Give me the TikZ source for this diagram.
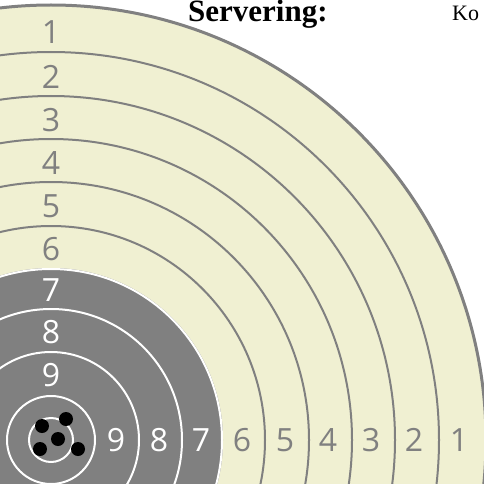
\documentclass[tikz,border=0pt]{standalone}
\usepackage{fontspec}
\setmainfont{Liberation Serif}
\newfontfamily\ringfont{Open Sans}
\usetikzlibrary{calc}

\definecolor{beige}{RGB}{240,240,210}
\definecolor{ringgrey}{RGB}{128,128,128}

\begin{document}
\begin{tikzpicture}[x=1pt,y=-1pt]
	\tikzset{lbl/.style={font=\ringfont\fontsize{32}{32}\selectfont,inner sep=0pt}}
	\tikzset{greyring/.style={draw=ringgrey,line width=2pt}}
	\tikzset{whitering/.style={draw=white,line width=2pt}}
	\useasboundingbox (0,0) rectangle (484,484);
	\clip (0,0) rectangle (484,484);
	\fill[white] (0,0) rectangle (484,484);
	\coordinate (O) at (51,440);
	
	% target
	\fill[beige] (O) circle (435);
	\foreach \r in {214,258,301,344,388}
		\draw[greyring] (O) circle (\r);
	\draw[ringgrey,line width=3pt] (O) circle (435);
	\fill[ringgrey] (O) circle (172);
	\foreach \r in {22,44,88,131,171}
		\draw[whitering] (O) circle (\r);
	
	% ring numbers
	\foreach \k/\r in {1/408,2/363,3/320,4/277,5/234,6/191} {
		\node[lbl,text=ringgrey] (v\k) at ($(O)+(0,-\r)$) {\k};
		\node[lbl,text=ringgrey] (h\k) at ($(O)+(\r,0)$) {\k};
	}
	\foreach \k/\r in {7/150,8/108,9/65} {
		\node[lbl,text=white] (v\k) at ($(O)+(0,-\r)$) {\k};
		\node[lbl,text=white] (h\k) at ($(O)+(\r,0)$) {\k};
	}
	
	% shots
	\foreach \p in {(42,426),(66,419),(58,439),(40,449),(78,449)}
		\fill[black] \p circle (7);
	
	% header
	\node[anchor=base west,inner sep=0pt,font=\fontsize{31}{31}\selectfont\bfseries] (serv) at (188,21.5) {Servering:};
	\node[anchor=base west,inner sep=0pt,font=\fontsize{22}{22}\selectfont] (ko) at (452,21) {Ko};
\end{tikzpicture}
\end{document}
